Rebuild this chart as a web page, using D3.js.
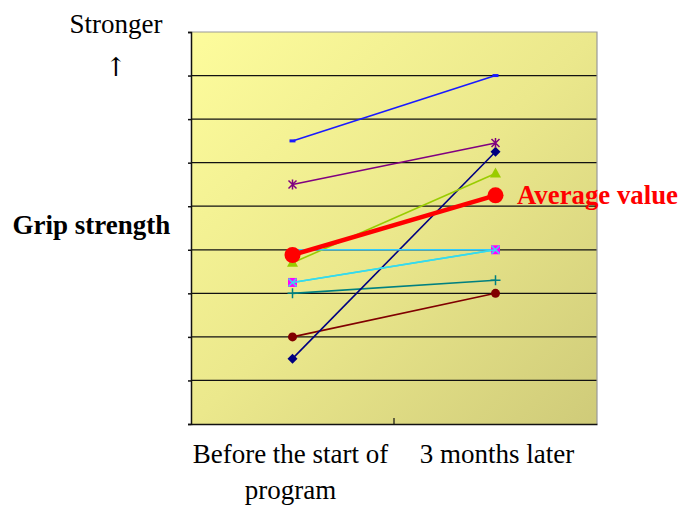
<!DOCTYPE html>
<html><head><meta charset="utf-8">
<script src="https://cdn.jsdelivr.net/npm/d3@7"></script>
<style>body{margin:0;background:#fff}svg{display:block}</style>
</head><body>
<svg id="c" width="681" height="506"></svg>
<script>
const categories = ["Before the start of program", "3 months later"];
const catLines = [["Before the start of", "program"], ["3 months later"]];
const yTicks = [0,1,2,3,4,5,6,7,8,9];
const seriesNames = ["s1","s2","s3","s4","s5","s6","s7","s8","s9"];
const seriesValues = [
  [6.5, 8.0],
  [5.5, 6.45],
  [1.5, 6.25],
  [3.7, 5.75],
  [4.0, 4.0],
  [3.25, 4.0],
  [3.25, 4.0],
  [3.0, 3.3],
  [2.0, 3.0]
];
const seriesColors = ["#1a1aff","#800080","#000080","#99cc00","#33ccff","#33ddee","#ff00ff","#008080","#800000"];
const seriesMarkers = ["dash","star","diamond","triangle","none","x","square","plus","circle"];
const averageValues = [3.88, 5.25];
const averageLabel = "Average value";

const svg = d3.select("#c");
const L=191, R=597, T=32, B=424;
const x = d3.scaleBand().domain(categories).range([L,R]);
const y = d3.scaleLinear().domain([0,9]).range([B,T]);

const defs = svg.append("defs");
const g = defs.append("linearGradient").attr("id","bg").attr("x1","0").attr("y1","0").attr("x2","1").attr("y2","1");
g.append("stop").attr("offset","0").attr("stop-color","#fdfc9c");
g.append("stop").attr("offset","0.5").attr("stop-color","#ebe88c");
g.append("stop").attr("offset","1").attr("stop-color","#cfcb79");
svg.append("rect").attr("x",L).attr("y",T).attr("width",R-L).attr("height",B-T).attr("fill","url(#bg)");

// grid
svg.append("g").selectAll("line").data(yTicks.filter(v=>v>0&&v<9)).join("line")
  .attr("x1",L).attr("x2",R).attr("y1",d=>y(d)).attr("y2",d=>y(d))
  .attr("stroke","#111").attr("stroke-width",1.2);
// border top/right
svg.append("path").attr("d",`M${L},${T}H${R}V${B}`).attr("fill","none").attr("stroke","#999").attr("stroke-width",1.2);
// left axis
const ya = svg.append("g").attr("transform",`translate(${L},0)`).call(d3.axisLeft(y).tickValues(yTicks).tickSize(3).tickFormat(""));
ya.selectAll("path,line").attr("stroke","#111").attr("stroke-width",1.5);
// bottom axis
const xa = svg.append("g").attr("transform",`translate(0,${B})`)
  .call(d3.axisBottom(x).tickSize(0).tickFormat(""));
xa.select("path").attr("stroke","#111").attr("stroke-width",1.5);
svg.append("line").attr("x1",x(categories[1])).attr("x2",x(categories[1])).attr("y1",B).attr("y2",B-6).attr("stroke","#111").attr("stroke-width",1.2);

const cx = c => x(c) + x.bandwidth()/2;
const line = d3.line().x((d,i)=>cx(categories[i])).y(d=>y(d));

function marker(sel, type, color, px, py){
  const s=4;
  if(type==="dash") sel.append("rect").attr("x",px-3).attr("y",py-1.5).attr("width",6).attr("height",3).attr("fill",color);
  else if(type==="star"){
    sel.append("path").attr("d",`M${px-s},${py-s}L${px+s},${py+s}M${px-s},${py+s}L${px+s},${py-s}M${px},${py-s-1}V${py+s+1}`).attr("stroke",color).attr("stroke-width",1.5);
  } else if(type==="diamond") sel.append("path").attr("d",`M${px},${py-5}L${px+5},${py}L${px},${py+5}L${px-5},${py}Z`).attr("fill",color);
  else if(type==="triangle") sel.append("path").attr("d",`M${px},${py-6}L${px+5.5},${py+4}L${px-5.5},${py+4}Z`).attr("fill",color);
  else if(type==="square") sel.append("rect").attr("x",px-4.5).attr("y",py-4.5).attr("width",9).attr("height",9).attr("fill",color);
  else if(type==="x") sel.append("path").attr("d",`M${px-4},${py-4}L${px+4},${py+4}M${px-4},${py+4}L${px+4},${py-4}`).attr("stroke",color).attr("stroke-width",1.5);
  else if(type==="plus") sel.append("path").attr("d",`M${px-5},${py}H${px+5}M${px},${py-5}V${py+5}`).attr("stroke",color).attr("stroke-width",1.5);
  else if(type==="circle") sel.append("circle").attr("cx",px).attr("cy",py).attr("r",4.5).attr("fill",color);
}

const order = [8,7,2,0,1,3,4,6,5];
order.forEach(i=>{
  const vals = seriesValues[i];
  const col = seriesColors[i];
  const lineCol = seriesMarkers[i]==="square" ? "#33ccee" : col;
  const sg = svg.append("g");
  sg.append("path").attr("d",line(vals)).attr("fill","none").attr("stroke",lineCol).attr("stroke-width",1.6);
  vals.forEach((v,j)=>marker(sg, seriesMarkers[i], col, cx(categories[j]), y(v)));
});

// average
svg.append("path").attr("d",line(averageValues)).attr("fill","none").attr("stroke","#ff0000").attr("stroke-width",4.5);
svg.append("g").selectAll("circle").data(averageValues).join("circle")
  .attr("cx",(d,i)=>cx(categories[i])).attr("cy",d=>y(d)).attr("r",8).attr("fill","#ff0000");

const serif = "Liberation Serif";
const fs = 27;
svg.append("text").attr("x",517).attr("y",y(averageValues[1])+9).text(averageLabel)
  .attr("font-family",serif).attr("font-weight","bold").attr("font-size",fs).attr("fill","#ff0000")
  .attr("textLength",161).attr("lengthAdjust","spacingAndGlyphs");

// labels
svg.append("text").attr("x",116).attr("y",33).attr("text-anchor","middle").attr("font-family",serif).attr("font-size",fs).text("Stronger");
svg.append("text").attr("x",116).attr("y",76).attr("text-anchor","middle").attr("font-family","DejaVu Serif").attr("font-size",26).attr("font-weight","200").text("↑");
svg.append("text").attr("x",91.5).attr("y",234).attr("text-anchor","middle").attr("font-family",serif).attr("font-weight","bold").attr("font-size",fs).text("Grip strength");

const labelCenters = [290.5, 497];
categories.forEach((c,i)=>{
  catLines[i].forEach((t,k)=>{
    svg.append("text").attr("x",cx(c) + (labelCenters[i]-cx(c))).attr("y",463+k*36).attr("text-anchor","middle")
      .attr("font-family",serif).attr("font-size",fs).text(t);
  });
});
</script>
</body></html>
